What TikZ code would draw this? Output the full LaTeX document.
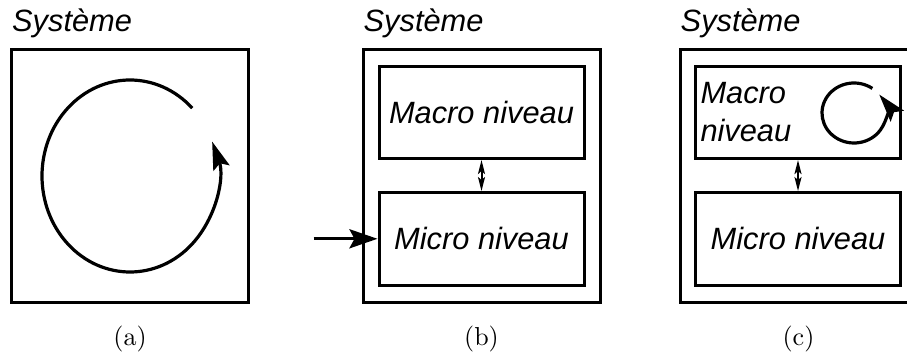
\documentclass[tikz,border=0pt]{standalone}
\usepackage{fontspec}
\newfontfamily\levelfont{Liberation Sans}
\newfontfamily\capfont{lmroman10-regular.otf}
\usetikzlibrary{arrows.meta,positioning}

\tikzstyle{system} = [draw,line width=3pt,minimum width=237pt,minimum height=253pt,inner sep=0pt]
\tikzstyle{level} = [draw,line width=3pt,minimum width=205pt,minimum height=92.5pt,inner sep=0pt,font=\levelfont\itshape\fontsize{30.8}{38}\selectfont]
\tikzstyle{title} = [anchor=base west,inner sep=0pt,font=\levelfont\itshape\fontsize{30.8}{38}\selectfont]
\tikzstyle{caption} = [anchor=base,inner sep=0pt,font=\capfont\fontsize{26}{30}\selectfont]
\tikzstyle{cycle} = [line width=3.2pt,-{Stealth[length=28pt,width=17pt,inset=5pt]}]
\tikzstyle{input} = [line width=3.2pt,-{Stealth[length=28pt,width=19pt,inset=5pt]}]
\tikzstyle{link} = [line width=2pt,{Stealth[length=14pt,width=7pt,inset=3pt]}-{Stealth[length=14pt,width=7pt,inset=3pt]}]

\begin{document}
\begin{tikzpicture}[x=1pt,y=1pt]
      \path[use as bounding box,clip] (0,0) rectangle (907,361);
      %systems
      \foreach \panel/\x in {a/130, b/481.5, c/798.5}
      {
        \node[system] (sys\panel) at (\x,185) {};
        \node[title] at ([xshift=2pt,yshift=16pt]sys\panel.north west) {Système};
        \node[caption] at ([yshift=-42pt]sys\panel.south) {(\panel)};
      };
      %levels
      \node[level] (macrob) at (481.5,248.7) {Macro niveau};
      \node[level,below=31pt of macrob] (microb) {Micro niveau};
      \node[level,text width=195pt,inner xsep=5pt,align=left] (macroc) at (798,248.7) {Macro\\niveau};
      \node[level,below=31pt of macroc] (microc) {Micro niveau};
      \coordinate[left=64pt of microb.west] (inb);
      \coordinate (loopa) at (130,185);
      \coordinate (loopc) at (854,248);
      %edges
      \draw[cycle] ([shift={(45:88 and 96)}]loopa) arc[start angle=45,end angle=381,x radius=88,y radius=96];
      \draw[cycle] ([shift={(55:32 and 30)}]loopc) arc[start angle=55,end angle=398,x radius=32,y radius=30];
      \draw[input] (inb) -- (microb.west);
      \foreach \panel in {b,c}
      {
        \draw[link] (macro\panel.south) -- (micro\panel.north);
      };
\end{tikzpicture}
\end{document}
